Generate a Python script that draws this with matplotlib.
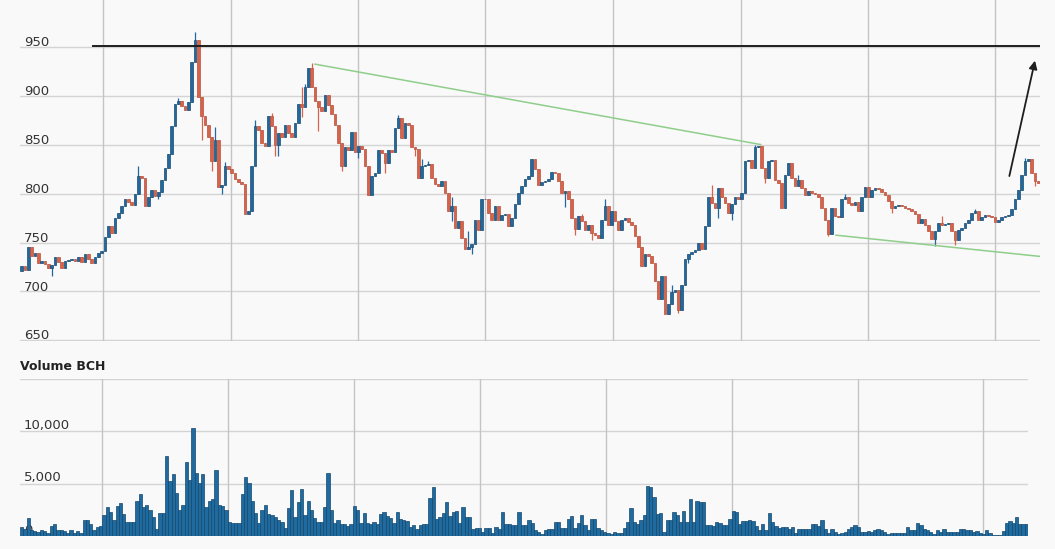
import matplotlib.pyplot as plt
import matplotlib.transforms as mtransforms
import numpy as np

# price candles left to right (open of each = previous close)
first_open = 721
closes = [
    # first stretch (up to the 957 spike and pull back)
    726, 722, 745, 736, 739, 729, 731, 728, 724, 727,
    735, 730, 724, 731, 732, 733, 731, 735, 730, 738,
    733, 729, 735, 739, 741, 756, 767, 760, 775, 780,
    787, 794, 791, 788, 800, 818, 816, 787, 797, 804,
    798, 802, 814, 826, 841, 869, 892, 895, 890, 886,
    894, 935, 957, 899, 879, 870, 858, 833, 855, 807,
    809, 828, 825, 821, 815, 812, 810, 779, 782, 828,
    869, 865,
    # second stretch
    852, 849, 879, 869, 850, 862, 858, 870, 862, 858,
    872, 892, 889, 909, 928, 909, 895, 889, 884, 901,
    891, 881, 870, 852, 828, 848, 845, 863, 843, 849,
    846, 828, 799, 818, 821, 845, 842, 831, 845, 843,
    867, 877, 857, 872, 870, 848, 846, 816, 828, 829,
    830, 816, 810, 808, 813, 801, 782, 787, 765, 772,
    755, 743, 745, 748, 773, 763, 794, 795, 780, 773,
    787, 773, 778, 779, 767, 775, 789, 801,
    # third stretch (down to the 677 low and back)
    808, 815, 818, 835, 825, 809, 812, 813, 815, 822,
    821, 813, 801, 803, 794, 775, 764, 777, 772, 763,
    768, 760, 758, 755, 773, 787, 768, 782, 772, 763,
    773, 775, 771, 768, 757, 745, 726, 738, 736, 729,
    711, 692, 716, 677, 687, 699, 701, 681, 707, 733,
    738, 740, 742, 750, 743, 767, 797, 790, 785, 806,
    797, 790, 780, 789, 797, 794, 801, 833, 834, 826,
    848, 849, 826, 816, 833, 834, 814, 811,
    # last stretch
    785, 819, 831, 816, 808, 814, 806, 799, 803, 801,
    800, 797, 785, 773, 759, 785, 777, 776, 794, 797,
    790, 788, 791, 782, 797, 807, 797, 804, 806, 805,
    802, 799, 792, 785, 787, 788, 787, 785, 784, 782,
    779, 770, 774, 768, 762, 754, 762, 770, 768, 769,
    770, 762, 753, 763, 765, 770, 773, 780, 782, 773,
    776, 778, 777, 776, 771, 773, 776, 777, 778, 784,
    794, 804, 819, 833, 835, 821, 813, 811,
]

# visible wick tips beyond the bodies
wick_high = {35: 828, 47: 898, 52: 965, 58: 868, 61: 832, 70: 875, 75: 882,
             84: 909, 85: 912, 87: 934, 113: 880, 120: 835, 122: 833, 129: 797,
             134: 762, 168: 779, 175: 795, 195: 707, 207: 809, 220: 850,
             233: 819, 247: 800, 276: 777, 286: 784, 301: 836}
wick_low = {9: 716, 41: 794, 54: 855, 57: 823, 60: 800, 76: 838, 77: 838,
            84: 878, 89: 864, 96: 823, 101: 836, 109: 821, 118: 838, 129: 772,
            135: 738, 163: 786, 166: 758, 171: 753, 197: 678, 200: 729,
            209: 775, 213: 773, 223: 811, 242: 757, 261: 780, 274: 746,
            280: 747, 304: 808}

volumes = [
    860, 700, 1700, 600, 500, 400, 600, 500, 300, 1000,
    1100, 600, 600, 500, 300, 600, 300, 500, 300, 1500,
    1500, 1100, 600, 900, 1000, 2000, 2800, 2300, 1500, 2850,
    3150, 2100, 1350, 1350, 1350, 3300, 4050, 2800, 2950, 2500,
    1800, 700, 2200, 2200, 7650, 5250, 5900, 4130, 2530, 2950,
    7100, 5350, 10300, 6000, 5100, 5900, 2800, 3300, 3500, 6300,
    2950, 2900, 2500, 1350, 1200, 1200, 1200, 4050, 5600, 5100,
    3350, 2150, 1280, 2450, 2950, 2100, 2000, 1800, 1500, 1350,
    770, 2700, 4350, 1800, 3250, 4500, 2050, 3350, 2500, 1730,
    1350, 1350, 2800, 6000, 2470, 1280, 1570, 1120, 1120, 960,
    1120, 2850, 2470, 1250, 2150, 1280, 1120, 1350, 1180, 2080,
    2250, 1920, 1760, 1250, 2250, 1670, 1500, 1400, 860, 1020,
    700, 1090, 1120, 1180, 3600, 4700, 1600, 1830, 2150, 3270,
    1920, 2300, 2370, 1280, 2800, 1830, 1830, 640, 770, 770,
    380, 770, 770, 320, 860, 700, 2250, 1120, 1120, 1020,
    1020, 2250, 1020, 1020, 1570, 1250, 540, 380, 160, 600,
    700, 700, 1350, 1350, 800, 800, 1600, 1920, 800, 1250,
    2050, 1020, 600, 1600, 1670, 770, 540, 380, 320, 160,
    350, 290, 290, 800, 1350, 2700, 1350, 1180, 1500, 2050,
    4780, 4700, 3700, 2080, 2150, 380, 1570, 1500, 2300, 2000,
    1350, 2370, 1350, 3500, 1350, 3350, 3270, 3270, 1020, 1020, 930,
    1350, 1250, 1020, 1090, 1670, 2370, 2250, 1120, 1440, 1440,
    1570, 1440, 960, 540, 1180, 540, 2150, 1350, 960, 770,
    860, 860, 700, 860, 290, 640, 640, 640, 640, 1120, 1120,
    960, 1570, 700, 290, 640, 380, 220, 320, 380, 700,
    860, 1020, 860, 380, 380, 480, 380, 600, 700, 600,
    380, 220, 290, 290, 290, 290, 290, 860, 540, 540, 1250,
    1020, 640, 540, 380, 220, 540, 380, 640, 380, 380,
    380, 380, 640, 640, 540, 540, 380, 450, 320, 220, 540,
    290, 130, 130, 130, 450, 1280, 1400, 1280, 1830, 1180,
    1180, 1180,
]

price_ticks = [650, 700, 750, 800, 850, 900, 950]
volume_ticks = [0, 5000, 10000]
volume_labels = ['0', '5,000', '10,000']
day_lines = [24.5, 62.7, 100.8, 139.1, 177.5, 215.7, 253.8, 291.9]

# drawn-on lines: resistance, two trend lines and the arrow
resistance = 951
trend_top = [(88.0, 932.4), (221.7, 850.2)]
trend_bottom = [(244.3, 757.5), (305.5, 735.8)]
arrow_tail = (296.3, 818)
arrow_head = (304.0, 936)

BLUE = '#22689d'
BLUE_EDGE = '#1b4e76'
RED = '#d6634b'
RED_EDGE = '#bb523c'
BG = '#f9f9f9'

n = len(closes)
x = np.arange(n)
c = np.array(closes, dtype=float)
o = np.concatenate([[first_open], c[:-1]])
hi = np.maximum(o, c)
lo = np.minimum(o, c)
for i, v in wick_high.items():
    hi[i] = v
for i, v in wick_low.items():
    lo[i] = v
up = c >= o

fig = plt.figure(figsize=(10.55, 5.49), dpi=100, facecolor=BG)
ax = fig.add_axes([20/1055, 1 - 341/549, 1020/1055, 341/549], facecolor=BG)
axv = fig.add_axes([20/1055, 1 - 536/549, 1008/1055, 157/549], facecolor=BG)

# price panel
for v in price_ticks:
    ax.axhline(v, color='#d4d4d4', lw=1, zorder=0)
for d in day_lines:
    ax.axvline(d, color='#c4c4c4', lw=1, zorder=0)

body_col = np.where(up, BLUE, RED)
edge_col = np.where(up, BLUE_EDGE, RED_EDGE)
ax.vlines(x, lo, hi, colors=body_col, lw=0.9, zorder=2)
ax.bar(x, np.maximum(np.abs(c - o), 1.0), bottom=np.minimum(o, c), width=0.74,
       color=body_col, edgecolor=edge_col, linewidth=0.5, zorder=3)

ax.plot([21.3, 305.5], [resistance, resistance], color='#1e1e1e', lw=1.4, zorder=4)
ax.plot(*zip(*trend_top), color='#8fce8a', lw=1.1, zorder=4)
ax.plot(*zip(*trend_bottom), color='#8fce8a', lw=1.1, zorder=4)
ax.annotate('', xy=arrow_head, xytext=arrow_tail,
            arrowprops=dict(arrowstyle='-|>', color='#1e1e1e', lw=1.3,
                            mutation_scale=12, shrinkA=0, shrinkB=0), zorder=5)

tr = mtransforms.blended_transform_factory(ax.transAxes, ax.transData)
for v in price_ticks:
    ax.text(0.004, v - 2.2, str(v), transform=tr, ha='left', va='bottom',
            fontsize=9.5, color='#333333', zorder=6)

ax.set_xlim(-0.5, n - 0.5)
ax.set_ylim(649.3, 998)
ax.set_xticks([])
ax.set_yticks([])
for s in ax.spines.values():
    s.set_visible(False)

# volume panel
for v in [5000, 10000, 15000]:
    axv.axhline(v, color='#d4d4d4', lw=1, zorder=0)
for d in day_lines:
    axv.axvline(d, color='#c4c4c4', lw=1, zorder=0)
trv = mtransforms.blended_transform_factory(axv.transAxes, axv.transData)
for v, lab in zip(volume_ticks, volume_labels):
    axv.text(0.004, v - 50, lab, transform=trv, ha='left', va='bottom',
             fontsize=9.5, color='#333333', zorder=1)
axv.bar(np.arange(len(volumes)), volumes, width=1.0, color='#1f6a9f',
        edgecolor='#14486e', linewidth=0.5, zorder=2)
axv.set_xlim(-0.5, n - 0.5)
axv.set_ylim(0, 15000)
axv.set_xticks([])
axv.set_yticks([])
for s in axv.spines.values():
    s.set_visible(False)

fig.text(20/1055, 1 - 367/549, 'Volume BCH', fontsize=9, fontweight='bold',
         color='#222222', ha='left', va='center')

fig.savefig('out.png', dpi=100, facecolor=BG)
